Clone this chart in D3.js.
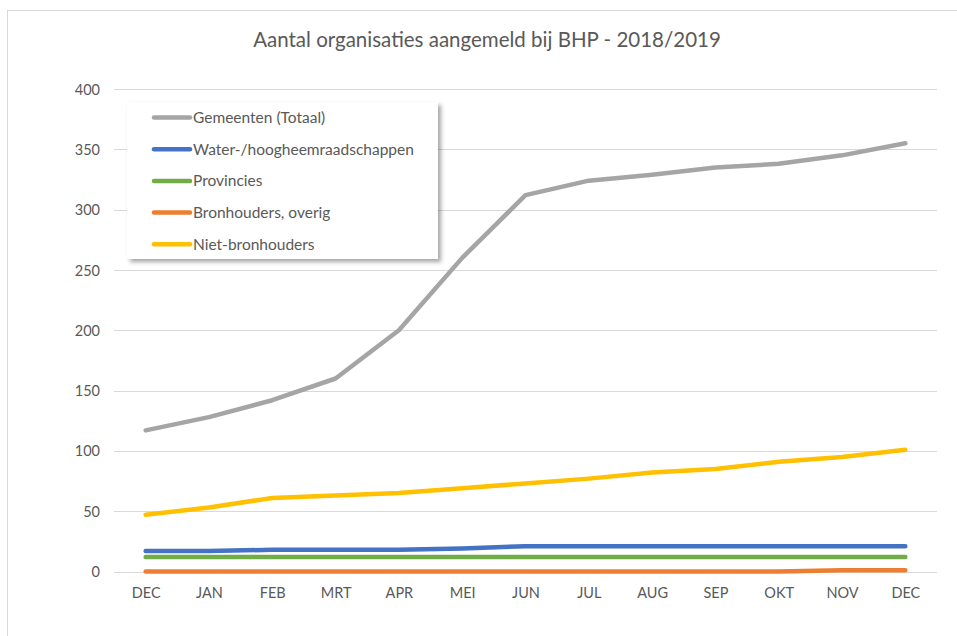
<!DOCTYPE html>
<html>
<head>
<meta charset="utf-8">
<script src="https://cdn.jsdelivr.net/npm/d3@7"></script>
<style>
  body { margin: 0; background: #fff; }
  text { font-family: Lato, "Open Sans", sans-serif; fill: #595959; }
</style>
</head>
<body>
<div id="chart"></div>
<script>
const months = ["DEC", "JAN", "FEB", "MRT", "APR", "MEI", "JUN", "JUL", "AUG", "SEP", "OKT", "NOV", "DEC"];
const gemeenten = [117, 128, 142, 160, 200, 260, 312, 324, 329, 335, 338, 345, 355];
const waterschappen = [17, 17, 18, 18, 18, 19, 21, 21, 21, 21, 21, 21, 21];
const provincies = [12, 12, 12, 12, 12, 12, 12, 12, 12, 12, 12, 12, 12];
const bronhoudersOverig = [0, 0, 0, 0, 0, 0, 0, 0, 0, 0, 0, 1, 1];
const nietBronhouders = [47, 53, 61, 63, 65, 69, 73, 77, 82, 85, 91, 95, 101];
const yTicks = [0, 50, 100, 150, 200, 250, 300, 350, 400];

const series = [
    { name: "Gemeenten (Totaal)", values: gemeenten, color: "#a5a5a5" },
    { name: "Water-/hoogheemraadschappen", values: waterschappen, color: "#4472c4" },
    { name: "Provincies", values: provincies, color: "#70ad47" },
    { name: "Bronhouders, overig", values: bronhoudersOverig, color: "#ed7d31" },
    { name: "Niet-bronhouders", values: nietBronhouders, color: "#ffc000" }
];

const width = 957, height = 636;
const plot = { left: 114, right: 937, top: 89, bottom: 571.5 };

const svg = d3.select("#chart").append("svg")
    .attr("width", width)
    .attr("height", height);

const defs = svg.append("defs");
const shadow = defs.append("filter").attr("id", "shadow")
    .attr("x", "-10%").attr("y", "-10%").attr("width", "130%").attr("height", "130%");
shadow.append("feDropShadow")
    .attr("dx", 3).attr("dy", 3).attr("stdDeviation", 2)
    .attr("flood-color", "#000").attr("flood-opacity", 0.35);

// chart frame
svg.append("rect")
    .attr("x", 7.5).attr("y", 10.5)
    .attr("width", 970).attr("height", 660)
    .attr("fill", "#fff")
    .attr("stroke", "#d9d9d9");

svg.append("text")
    .attr("x", 487).attr("y", 47)
    .attr("text-anchor", "middle")
    .style("font-size", "20.5px")
    .text("Aantal organisaties aangemeld bij BHP - 2018/2019");

const x = d3.scalePoint()
    .domain(d3.range(months.length))
    .range([plot.left, plot.right])
    .padding(0.5);

const y = d3.scaleLinear()
    .domain([0, 400])
    .range([plot.bottom, plot.top]);

// gridlines
svg.append("g")
    .selectAll("line")
    .data(yTicks)
    .join("line")
    .attr("x1", plot.left).attr("x2", plot.right)
    .attr("y1", d => Math.round(y(d)) + 0.5)
    .attr("y2", d => Math.round(y(d)) + 0.5)
    .attr("stroke", "#d9d9d9")
    .attr("stroke-width", 1);

const yAxis = svg.append("g")
    .attr("transform", `translate(${plot.left - 14},0)`)
    .call(d3.axisLeft(y).tickValues(yTicks).tickSize(0).tickPadding(0));
yAxis.select(".domain").remove();
yAxis.selectAll("text").style("font-size", "14.5px").attr("dy", "0.35em");

const xAxis = svg.append("g")
    .attr("transform", `translate(0,${plot.bottom + 13})`)
    .call(d3.axisBottom(x).tickFormat(i => months[i]).tickSize(0).tickPadding(0));
xAxis.select(".domain").remove();
xAxis.selectAll("text").style("font-size", "14.5px").attr("dy", "0.9em");

const line = d3.line()
    .x((d, i) => x(i))
    .y(d => y(d));

svg.append("g")
    .selectAll("path")
    .data(series)
    .join("path")
    .attr("d", d => line(d.values))
    .attr("fill", "none")
    .attr("stroke", d => d.color)
    .attr("stroke-width", 4.5)
    .attr("stroke-linecap", "round")
    .attr("stroke-linejoin", "round");

// legend
const legend = svg.append("g");
legend.append("rect")
    .attr("x", 127).attr("y", 102)
    .attr("width", 311).attr("height", 157)
    .attr("fill", "#fff")
    .attr("filter", "url(#shadow)");

const rows = legend.selectAll("g.row")
    .data(series)
    .join("g")
    .attr("class", "row")
    .attr("transform", (d, i) => `translate(0,${117.5 + i * 31.7})`);
rows.append("line")
    .attr("x1", 154).attr("x2", 190)
    .attr("stroke", d => d.color)
    .attr("stroke-width", 4.5)
    .attr("stroke-linecap", "round");
rows.append("text")
    .attr("x", 193).attr("dy", "0.35em")
    .style("font-size", "15.5px")
    .text(d => d.name);
</script>
</body>
</html>
